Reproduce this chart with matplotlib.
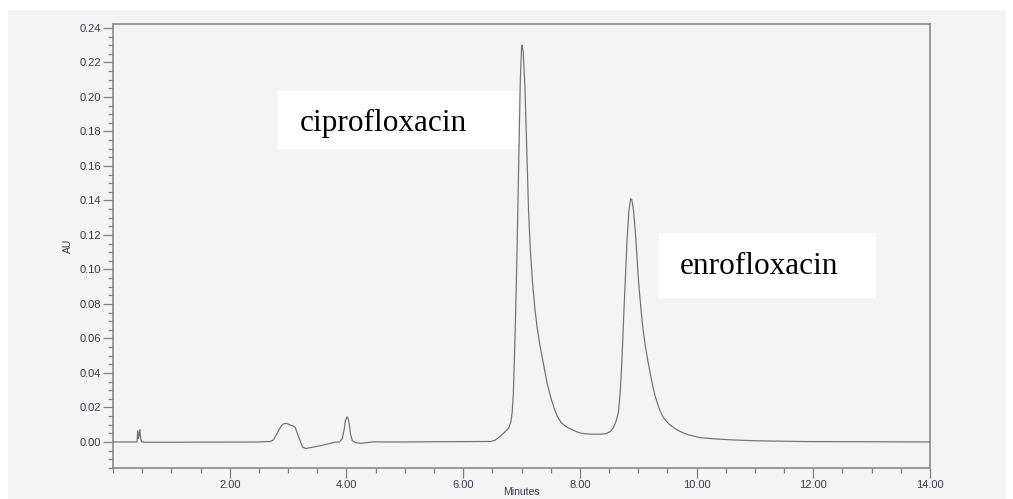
import matplotlib
matplotlib.use("Agg")
import matplotlib.pyplot as plt
from matplotlib.patches import Rectangle
from matplotlib.ticker import MultipleLocator, FormatStrFormatter

# ---- data ----
time_min = [
    0.00, 0.40, 0.41, 0.425, 0.435, 0.445, 0.46, 0.475, 0.49, 0.55, 1.00, 1.50, 2.00, 2.50,
    2.70, 2.75, 2.78, 2.82, 2.85, 2.89, 2.92, 2.97, 3.03, 3.08, 3.12, 3.15, 3.18, 3.21,
    3.25, 3.30, 3.40, 3.55, 3.70, 3.80, 3.88, 3.93, 3.96, 3.98, 4.01, 4.03, 4.05, 4.07,
    4.10, 4.16, 4.25, 4.35, 4.47, 4.60, 5.00, 5.50, 6.00, 6.29, 6.47, 6.55, 6.64, 6.72,
    6.78, 6.82, 6.84, 6.86, 6.88, 6.90, 6.92, 6.94, 6.96, 6.98, 7.00, 7.01, 7.03, 7.06,
    7.09, 7.12, 7.15, 7.19, 7.23, 7.27, 7.31, 7.36, 7.40, 7.44, 7.50, 7.56, 7.61, 7.68,
    7.76, 7.84, 7.95, 8.06, 8.20, 8.35, 8.44, 8.52, 8.57, 8.62, 8.66, 8.69, 8.71, 8.73,
    8.75, 8.78, 8.81, 8.84, 8.87, 8.89, 8.92, 8.95, 8.98, 9.01, 9.05, 9.08, 9.12, 9.17,
    9.23, 9.29, 9.36, 9.43, 9.52, 9.62, 9.72, 9.85, 10.06, 10.30, 10.60, 11.00, 11.50,
    12.00, 13.00, 14.00,
]
absorbance_au = [
    0.0000, 0.0000, 0.0000, 0.0065, 0.0020, 0.0030, 0.0072, 0.0020, 0.0000, -0.0002, -0.0002, -0.0001, -0.0001, 0.0000,
    0.0003, 0.0012, 0.0030, 0.0055, 0.0075, 0.0095, 0.0105, 0.0108, 0.0099, 0.0094, 0.0085, 0.0060, 0.0030, 0.0005,
    -0.0030, -0.0038, -0.0032, -0.0022, -0.0010, -0.0002, 0.0000, 0.0020, 0.0070, 0.0120, 0.0147, 0.0135, 0.0100, 0.0045,
    0.0008, -0.0005, -0.0008, -0.0004, 0.0001, 0.0000, 0.0000, 0.0001, 0.0002, 0.0002, 0.0003, 0.0010, 0.0035, 0.0060,
    0.0080, 0.0120, 0.0170, 0.0280, 0.0500, 0.0750, 0.1050, 0.1400, 0.1780, 0.2100, 0.2280, 0.2300, 0.2260, 0.2050,
    0.1700, 0.1350, 0.1120, 0.0920, 0.0770, 0.0660, 0.0570, 0.0480, 0.0410, 0.0340, 0.0260, 0.0195, 0.0150, 0.0112,
    0.0090, 0.0075, 0.0058, 0.0048, 0.0045, 0.0045, 0.0047, 0.0060, 0.0080, 0.0120, 0.0170, 0.0280, 0.0400, 0.0550,
    0.0720, 0.0950, 0.1180, 0.1340, 0.1410, 0.1405, 0.1340, 0.1220, 0.1060, 0.0910, 0.0760, 0.0660, 0.0560, 0.0460,
    0.0355, 0.0265, 0.0192, 0.0142, 0.0106, 0.0080, 0.0060, 0.0042, 0.0025, 0.0018, 0.0012, 0.0007, 0.0004,
    0.0002, 0.0001, 0.0000,
]
peak_labels = ["ciprofloxacin", "enrofloxacin"]
x_major_ticks = [2, 4, 6, 8, 10, 12, 14]

# ---- figure ----
W, H = 1013, 499
fig = plt.figure(figsize=(W / 100, H / 100), dpi=100, facecolor="white")

panel = "#f4f4f4"
def fx(px):
    return px / W
def fy(py):
    return 1 - py / H

# gray panel behind everything
fig.add_artist(Rectangle((fx(8), 0), fx(1006) - fx(8), fy(10), transform=fig.transFigure,
                         facecolor=panel, edgecolor="none", zorder=0))

ax = fig.add_axes([fx(113), fy(468), fx(930) - fx(113), fy(24) - fy(468)])
ax.set_facecolor(panel)
ax.plot(time_min, absorbance_au, color="#707070", lw=0.85, zorder=3)

ax.set_xlim(0, 14)
ax.set_ylim(-0.0151, 0.2423)

ax.set_xticks(x_major_ticks)
ax.xaxis.set_major_formatter(FormatStrFormatter("%.2f"))
ax.xaxis.set_minor_locator(MultipleLocator(0.5))
ax.yaxis.set_major_formatter(FormatStrFormatter("%.2f"))
ax.yaxis.set_minor_locator(MultipleLocator(0.005))
ax.set_yticks([v / 100 for v in range(0, 25, 2)])

tick_col = "#808080"
lab_col = "#3a3a48"
ax.tick_params(axis="both", which="major", direction="out", length=7, width=0.9,
               color=tick_col, labelsize=8, labelcolor=lab_col, pad=1.5)
ax.tick_params(axis="both", which="minor", direction="out", length=3.5, width=0.9, color=tick_col)
for lab in ax.get_xticklabels() + ax.get_yticklabels():
    lab.set_fontfamily("Liberation Sans")

for s in ax.spines.values():
    s.set_color("#8a8a8a")
    s.set_linewidth(1.2)

ax.set_xlabel("Minutes", fontsize=7.5, color=lab_col, family="Liberation Sans")
ax.xaxis.set_label_coords(0.5, -0.043)
ax.xaxis.label.set_va("top")
ax.set_ylabel("AU", fontsize=7.5, color=lab_col, family="Liberation Sans")
ax.yaxis.set_label_coords(-0.055, 0.5)
ax.yaxis.label.set_va("center")

# annotation boxes
boxes = [(278, 91, 518, 149, 300, 131), (659, 233, 876, 298, 680, 274)]
for (x0, y0, x1, y1, tx, ty), name in zip(boxes, peak_labels):
    fig.add_artist(Rectangle((fx(x0), fy(y1)), fx(x1) - fx(x0), fy(y0) - fy(y1),
                             transform=fig.transFigure, facecolor="white",
                             edgecolor="none", zorder=2))
    fig.text(fx(tx), fy(ty), name, family="Liberation Serif", fontsize=22.5,
             color="black", ha="left", va="baseline", zorder=4)

fig.savefig("out.png", dpi=100, facecolor=fig.get_facecolor())
